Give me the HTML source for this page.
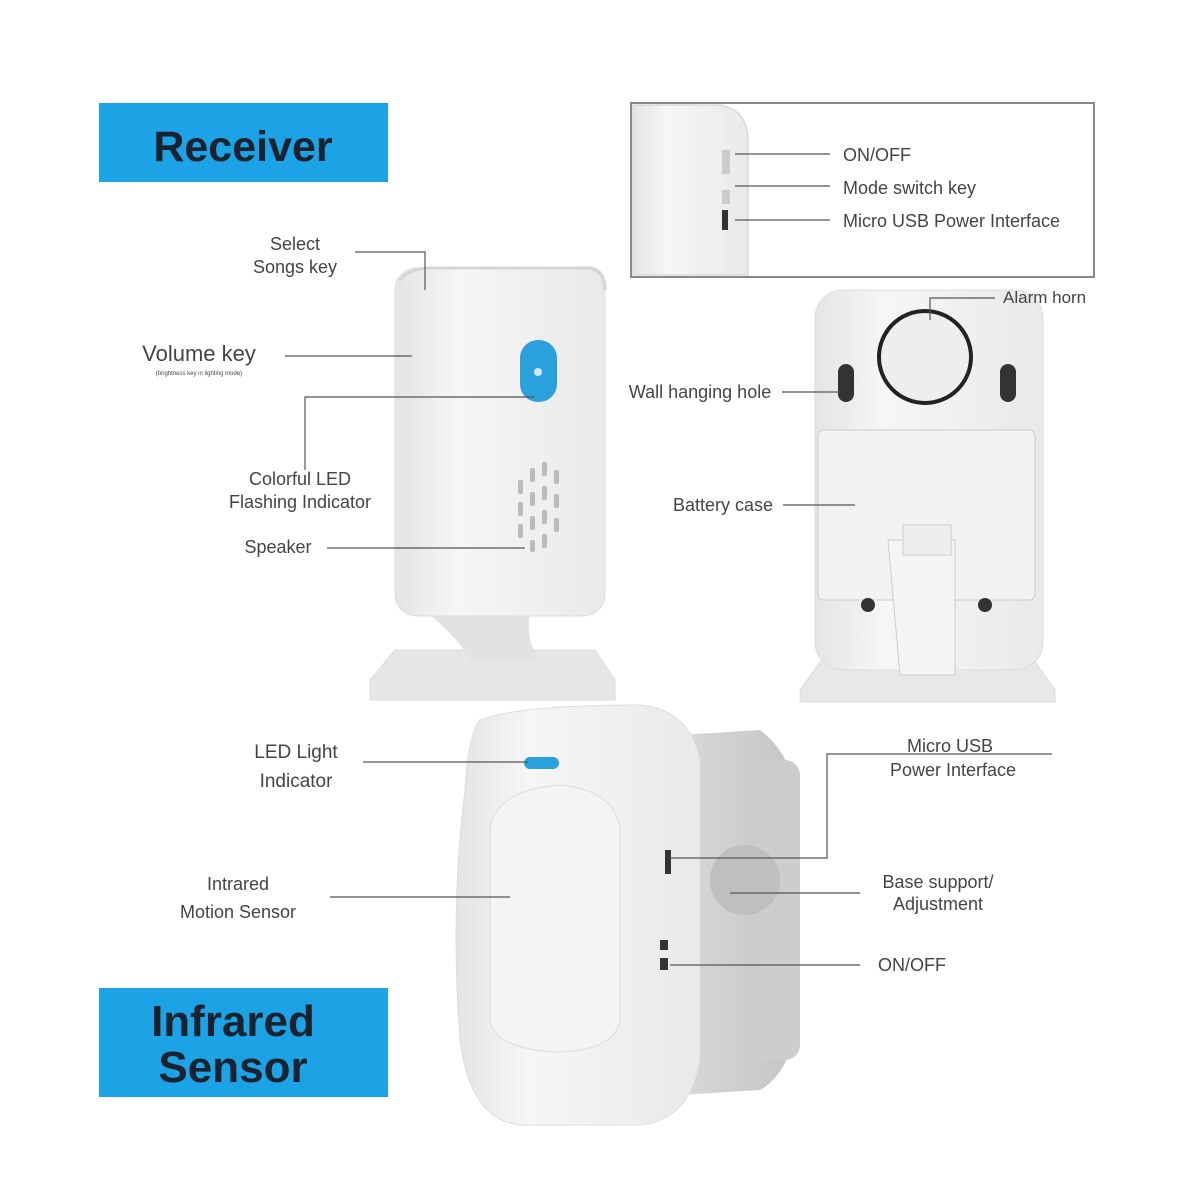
<!DOCTYPE html>
<html><head><meta charset="utf-8"><style>
html,body{margin:0;padding:0;background:#fff;}
svg{display:block}
text{font-family:"Liberation Sans",sans-serif;fill:#444;}
</style></head><body>
<svg width="1200" height="1200" viewBox="0 0 1200 1200" xmlns="http://www.w3.org/2000/svg">
<defs>
<linearGradient id="g1" x1="0" x2="1"><stop offset="0" stop-color="#e4e4e4"/><stop offset="0.3" stop-color="#f6f6f6"/><stop offset="1" stop-color="#e9e9e9"/></linearGradient>
<linearGradient id="g2" x1="0" x2="1"><stop offset="0" stop-color="#d8d8d8"/><stop offset="1" stop-color="#c4c4c4"/></linearGradient>
</defs>
<rect width="1200" height="1200" fill="#fff"/>
<rect x="99" y="103" width="289" height="79" fill="#1ba3e6"/>
<text x="243" y="161" text-anchor="middle" font-size="43" font-weight="bold" style="fill:#1a2230">Receiver</text>
<rect x="99" y="988" width="289" height="109" fill="#1ba3e6"/>
<text x="233" y="1036" text-anchor="middle" font-size="44" font-weight="bold" style="fill:#1a2230">Infrared</text>
<text x="233" y="1082" text-anchor="middle" font-size="44" font-weight="bold" style="fill:#1a2230">Sensor</text>

<rect x="631" y="103" width="463" height="174" fill="#fff" stroke="#888" stroke-width="2"/>
<path d="M633 105 H720 Q748 110 748 140 V275 H633Z" fill="url(#g1)" stroke="#ccc"/>
<rect x="722" y="150" width="8" height="24" fill="#ccc"/><rect x="722" y="190" width="8" height="14" fill="#ccc"/><rect x="722" y="210" width="6" height="20" fill="#333"/>
<g stroke="#555" stroke-width="1.2"><line x1="735" y1="154" x2="830" y2="154"/><line x1="735" y1="186" x2="830" y2="186"/><line x1="735" y1="220" x2="830" y2="220"/></g>
<text x="843" y="161" font-size="18">ON/OFF</text>
<text x="843" y="194" font-size="18">Mode switch key</text>
<text x="843" y="227" font-size="18">Micro USB Power Interface</text>

<path d="M370 680 L395 650 H595 L615 680 V700 H370Z" fill="#e6e6e6" stroke="#ddd"/>
<path d="M430 615 Q460 640 470 660 H540 Q525 640 530 615Z" fill="#e2e2e2"/>
<rect x="395" y="268" width="210" height="348" rx="22" fill="url(#g1)" stroke="#ddd"/>
<path d="M400 280 Q410 268 430 268 H590 Q605 270 605 290" fill="none" stroke="#d5d5d5" stroke-width="3"/>
<rect x="520" y="340" width="37" height="62" rx="18" fill="#2aa0dc"/>
<circle cx="538" cy="372" r="4" fill="#cfeaf8"/>
<g fill="#bbb">
<rect x="518" y="480" width="5" height="14" rx="2"/><rect x="530" y="468" width="5" height="14" rx="2"/><rect x="542" y="462" width="5" height="14" rx="2"/><rect x="554" y="470" width="5" height="14" rx="2"/>
<rect x="518" y="502" width="5" height="14" rx="2"/><rect x="530" y="492" width="5" height="14" rx="2"/><rect x="542" y="486" width="5" height="14" rx="2"/><rect x="554" y="494" width="5" height="14" rx="2"/>
<rect x="518" y="524" width="5" height="14" rx="2"/><rect x="530" y="516" width="5" height="14" rx="2"/><rect x="542" y="510" width="5" height="14" rx="2"/><rect x="554" y="518" width="5" height="14" rx="2"/>
<rect x="530" y="540" width="5" height="12" rx="2"/><rect x="542" y="534" width="5" height="14" rx="2"/>
</g>
<g stroke="#555" stroke-width="1.2" fill="none">
<polyline points="355,252 425,252 425,290"/>
<line x1="285" y1="356" x2="412" y2="356"/>
<polyline points="305,470 305,397 535,397"/>
<line x1="327" y1="548" x2="525" y2="548"/>
</g>
<text x="295" y="250" text-anchor="middle" font-size="18">Select</text>
<text x="295" y="273" text-anchor="middle" font-size="18">Songs key</text>
<text x="199" y="361" text-anchor="middle" font-size="22">Volume key</text>
<text x="199" y="375" text-anchor="middle" font-size="6">(brightness key in lighting mode)</text>
<text x="300" y="485" text-anchor="middle" font-size="18">Colorful LED</text>
<text x="300" y="508" text-anchor="middle" font-size="18">Flashing Indicator</text>
<text x="278" y="553" text-anchor="middle" font-size="18">Speaker</text>

<path d="M800 690 L820 662 H1035 L1055 690 V702 H800Z" fill="#e8e8e8" stroke="#ddd"/>
<rect x="815" y="290" width="228" height="380" rx="28" fill="url(#g1)" stroke="#ddd"/>
<circle cx="925" cy="357" r="46" fill="#eee" stroke="#222" stroke-width="4"/>
<path d="M838 372 a8 8 0 0 1 16 0 v22 a8 8 0 0 1 -16 0Z" fill="#333"/>
<path d="M1000 372 a8 8 0 0 1 16 0 v22 a8 8 0 0 1 -16 0Z" fill="#333"/>
<rect x="818" y="430" width="217" height="170" rx="6" fill="#f2f2f2" stroke="#ccc"/>
<circle cx="868" cy="605" r="7" fill="#333"/><circle cx="985" cy="605" r="7" fill="#333"/>
<path d="M888 540 H955 V675 H900 Z" fill="#f4f4f4" stroke="#ccc"/>
<rect x="903" y="525" width="48" height="30" fill="#eee" stroke="#ccc"/>
<g stroke="#555" stroke-width="1.2" fill="none">
<polyline points="930,320 930,298 995,298"/>
<line x1="782" y1="392" x2="840" y2="392"/>
<line x1="783" y1="505" x2="855" y2="505"/>
</g>
<text x="1003" y="303" font-size="17">Alarm horn</text>
<text x="700" y="398" text-anchor="middle" font-size="18">Wall hanging hole</text>
<text x="723" y="511" text-anchor="middle" font-size="18">Battery case</text>

<path d="M680 735 L760 730 Q800 760 800 830 V1000 Q795 1070 760 1090 L680 1095Z" fill="url(#g2)"/>
<rect x="755" y="760" width="45" height="300" rx="15" fill="#cdcdcd"/>
<circle cx="745" cy="880" r="35" fill="#bfbfbf"/>
<path d="M480 720 Q520 705 640 705 Q690 710 700 760 V1060 Q690 1120 640 1125 H520 Q470 1120 460 1040 Q450 910 465 790 Q468 735 480 720Z" fill="url(#g1)" stroke="#ddd"/>
<path d="M490 830 Q495 790 560 785 Q615 790 620 830 V1020 Q615 1050 560 1052 Q495 1050 490 1020Z" fill="#f4f4f4" stroke="#ddd"/>
<rect x="524" y="757" width="35" height="12" rx="6" fill="#2aa0dc"/>
<rect x="665" y="850" width="6" height="24" fill="#333"/>
<rect x="660" y="940" width="8" height="10" fill="#333"/><rect x="660" y="958" width="8" height="12" fill="#333"/>
<g stroke="#555" stroke-width="1.2" fill="none">
<line x1="363" y1="762" x2="528" y2="762"/>
<line x1="330" y1="897" x2="510" y2="897"/>
<polyline points="1052,754 827,754 827,858 670,858"/>
<line x1="730" y1="893" x2="860" y2="893"/>
<line x1="670" y1="965" x2="860" y2="965"/>
</g>
<text x="296" y="758" text-anchor="middle" font-size="19">LED Light</text>
<text x="296" y="787" text-anchor="middle" font-size="19">Indicator</text>
<text x="238" y="890" text-anchor="middle" font-size="18">Intrared</text>
<text x="238" y="918" text-anchor="middle" font-size="18">Motion Sensor</text>
<text x="950" y="752" text-anchor="middle" font-size="18">Micro USB</text>
<text x="953" y="776" text-anchor="middle" font-size="18">Power Interface</text>
<text x="938" y="888" text-anchor="middle" font-size="18">Base support/</text>
<text x="938" y="910" text-anchor="middle" font-size="18">Adjustment</text>
<text x="878" y="971" font-size="18">ON/OFF</text>
</svg>
</body></html>
